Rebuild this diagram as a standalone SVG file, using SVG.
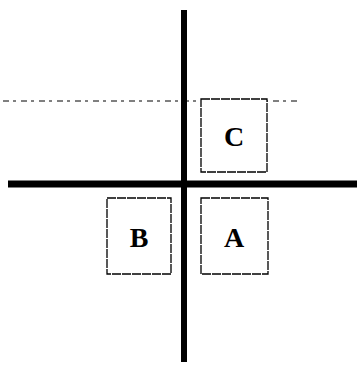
<svg xmlns="http://www.w3.org/2000/svg" width="357" height="365" viewBox="0 0 357 365">
<style>
.box{fill:#fff;stroke:#000;stroke-width:1.3;stroke-dasharray:9 1}
.lbl{font-family:"Liberation Serif",serif;font-weight:bold;font-size:28px;text-anchor:middle;fill:#000}
.axis{stroke:#000;fill:none}
</style>
<rect width="357" height="365" fill="#fff"/>
<g id="connectors">
<line class="axis" x1="3" y1="101" x2="300" y2="101" stroke-width="1" stroke="#555" stroke-dasharray="6 4 3 5"/>
<line class="axis" x1="8" y1="184" x2="357" y2="184" stroke-width="7"/>
<line class="axis" x1="184" y1="10" x2="184" y2="362" stroke-width="6"/>
</g>
<g id="C">
<rect class="box" x="201" y="99" width="66" height="73"/>
<text class="lbl" x="234" y="146">C</text>
</g>
<g id="B">
<rect class="box" x="107" y="198" width="64" height="76"/>
<text class="lbl" x="139" y="247">B</text>
</g>
<g id="A">
<rect class="box" x="201" y="198" width="67" height="76"/>
<text class="lbl" x="234" y="247">A</text>
</g>
</svg>
